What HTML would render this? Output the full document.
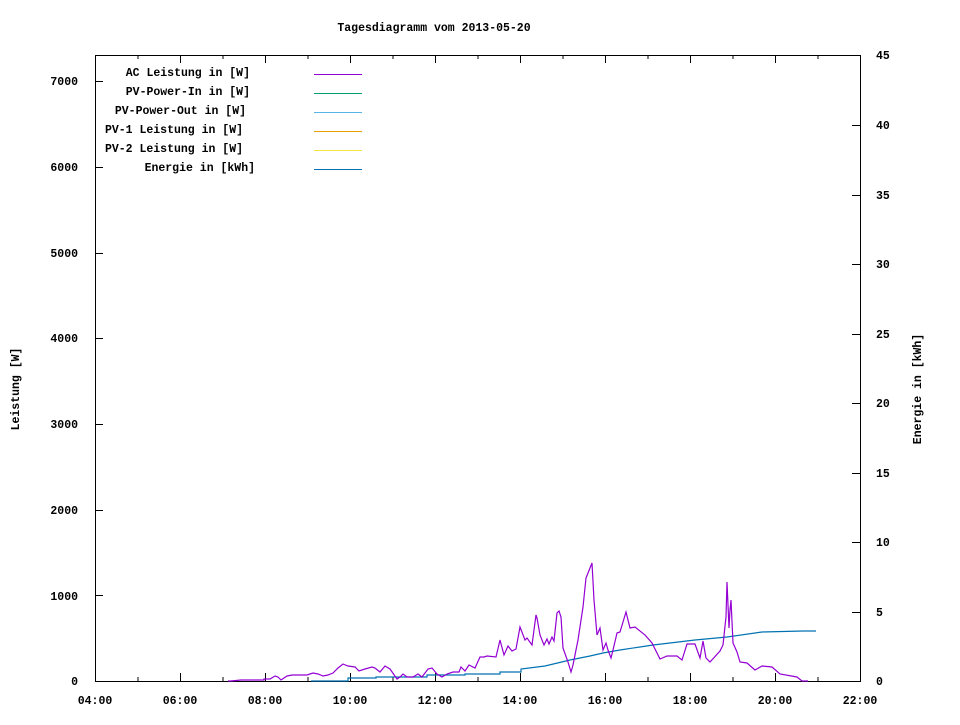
<!DOCTYPE html>
<html><head><meta charset="utf-8"><style>
body{margin:0;background:#fff}
svg text{font-family:"Liberation Mono",monospace;font-size:11.5px;font-weight:bold;fill:#000}
</style></head><body>
<svg width="960" height="720" xmlns="http://www.w3.org/2000/svg">
<rect width="960" height="720" fill="#fff"/>
<text x="434" y="31" text-anchor="middle">Tagesdiagramm vom 2013-05-20</text>
<rect x="95.5" y="55.5" width="765" height="626" fill="none" stroke="#000"/>
<g stroke="#000">
<path d="M95.5 681v-8M180.5 681v-8M265.5 681v-8M350.5 681v-8M435.5 681v-8M520.5 681v-8M605.5 681v-8M690.5 681v-8M775.5 681v-8
M138 681v-4M223 681v-4M308 681v-4M393 681v-4M478 681v-4M563 681v-4M648 681v-4M733 681v-4M818 681v-4
M180.5 55v8M265.5 55v8M350.5 55v8M435.5 55v8M520.5 55v8M605.5 55v8M690.5 55v8M775.5 55v8
M138 55v4M223 55v4M308 55v4M393 55v4M478 55v4M563 55v4M648 55v4M733 55v4M818 55v4"/>
<path d="M95 595.5h8M95 510.5h8M95 424.5h8M95 338.5h8M95 253.5h8M95 167.5h8M95 81.5h8"/>
<path d="M860 612.5h-8M860 542.5h-8M860 473.5h-8M860 403.5h-8M860 334.5h-8M860 264.5h-8M860 195.5h-8M860 125.5h-8"/>
</g>
<g text-anchor="end">
<text x="78" y="685">0</text><text x="78" y="600">1000</text><text x="78" y="514">2000</text>
<text x="78" y="428">3000</text><text x="78" y="342">4000</text><text x="78" y="257">5000</text>
<text x="78" y="171">6000</text><text x="78" y="85">7000</text>
</g>
<g text-anchor="start">
<text x="876" y="685">0</text><text x="876" y="616">5</text><text x="876" y="546">10</text>
<text x="876" y="477">15</text><text x="876" y="407">20</text><text x="876" y="338">25</text>
<text x="876" y="268">30</text><text x="876" y="199">35</text><text x="876" y="129">40</text><text x="876" y="59">45</text>
</g>
<g text-anchor="middle">
<text x="95" y="704">04:00</text><text x="180" y="704">06:00</text><text x="265" y="704">08:00</text>
<text x="350" y="704">10:00</text><text x="435" y="704">12:00</text><text x="520" y="704">14:00</text>
<text x="605" y="704">16:00</text><text x="690" y="704">18:00</text><text x="775" y="704">20:00</text><text x="860" y="704">22:00</text>
</g>
<text transform="translate(19 389) rotate(-90)" text-anchor="middle">Leistung [W]</text>
<text transform="translate(921 389) rotate(-90)" text-anchor="middle">Energie in [kWh]</text>
<g text-anchor="end">
<text x="250" y="76">AC Leistung in [W]</text>
<text x="250" y="95">PV-Power-In in [W]</text>
<text x="246" y="114">PV-Power-Out in [W]</text>
<text x="243" y="133">PV-1 Leistung in [W]</text>
<text x="243" y="152">PV-2 Leistung in [W]</text>
<text x="255" y="171">Energie in [kWh]</text>
</g>
<path d="M314 74.5h48" stroke="#9400d3"/>
<path d="M314 93.5h48" stroke="#009e73"/>
<path d="M314 112.5h48" stroke="#56b4e9"/>
<path d="M314 131.5h48" stroke="#e69f00"/>
<path d="M314 150.5h48" stroke="#f0e442"/>
<path d="M314 169.5h48" stroke="#0072b2"/>
<polyline fill="none" stroke="#0072b2" stroke-width="1.2" points="311,681 348,681 348,678 376,678 376,677 427,677 427,675 465,675 465,674 500,674 500,672 521,672 521,669 545,666 570,660 590,656 603,653 620,650 653,645 670,643 695,640 727,637 762,632 803,631 816,631"/>
<polyline fill="none" stroke="#9400d3" stroke-width="1.2" points="228,681 231,681 241,680 264,680 264,679 270,679 275,676 278,677 281,680 287,676 292,675 307,675 313,673 318,674 323,676 328,675 333,673 338,668 343,664 348,666 355,667 359,671 365,669 372,667 375,668 380,672 385,666 390,669 397,679 400,677 403,674 407,677 413,677 418,674 422,677 428,669 432,668 437,674 442,677 447,674 453,672 459,672 461,667 465,671 469,665 475,668 480,657 484,657 487,656 496,657 500,640 504,655 508,646 512,651 516,649 520,627 525,640 527,638 532,645 536,615 537,618 540,635 544,645 547,639 549,644 552,637 554,641 557,613 559,611 561,617 563,648 568,662 571,672 573,665 578,640 583,607 586,578 588,573 590,568 592,563 594,600 597,635 600,628 603,650 606,643 608,650 611,658 613,650 617,633 620,632 626,612 630,628 635,627 645,635 652,643 660,659 667,656 677,656 682,660 687,644 695,644 700,658 703,641 706,658 710,662 720,651 723,645 726,617 727,582 729,628 730,610 731,600 733,643 737,652 740,662 747,663 755,670 762,666 772,667 780,674 797,677 802,681 808,681"/>
</svg>
</body></html>
